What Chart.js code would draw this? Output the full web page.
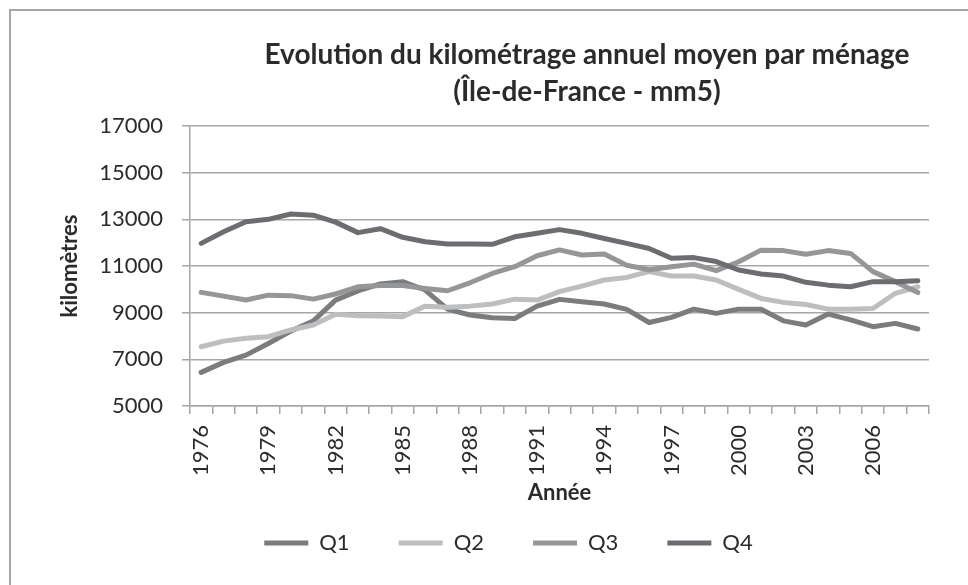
<!DOCTYPE html>
<html>
<head>
<meta charset="utf-8">
<script src="https://cdn.jsdelivr.net/npm/chart.js@4"></script>
<style>
  html, body { margin: 0; padding: 0; background: #fff; }
  #wrap { position: relative; width: 968px; height: 585px; overflow: hidden; }
  #frame { position: absolute; left: 9px; top: 9px; width: 980px; height: 600px;
           border-left: 2px solid #a6a6a6; border-top: 2px solid #a6a6a6; box-sizing: border-box; }
  canvas { position: absolute; left: 0; top: 0; }
</style>
</head>
<body>
<div id="wrap">
  <div id="frame"></div>
  <canvas id="c" width="968" height="585"></canvas>
</div>
<script>
const titleLines = ['Evolution du kilométrage annuel moyen par ménage', '(Île-de-France - mm5)'];
const years = ['1976','1977','1978','1979','1980','1981','1982','1983','1984','1985','1986','1987','1988','1989','1990','1991','1992','1993','1994','1995','1996','1997','1998','1999','2000','2001','2002','2003','2004','2005','2006','2007','2008'];
const q1 = [6440,6870,7180,7680,8210,8640,9540,9930,10230,10330,9970,9150,8900,8780,8750,9280,9570,9470,9370,9140,8580,8800,9150,8970,9150,9150,8650,8470,8940,8690,8400,8540,8300];
const q2 = [7540,7780,7900,7970,8260,8470,8930,8870,8860,8830,9280,9230,9280,9370,9580,9540,9900,10140,10400,10510,10760,10570,10570,10400,10000,9610,9440,9350,9150,9150,9180,9830,10110];
const q3 = [9870,9710,9540,9750,9730,9580,9800,10110,10160,10160,10040,9940,10280,10680,10970,11440,11690,11470,11510,11030,10840,10970,11080,10800,11180,11680,11660,11500,11660,11540,10760,10330,9860];
const q4 = [11970,12470,12900,13000,13230,13180,12880,12430,12600,12230,12040,11940,11940,11930,12250,12400,12560,12400,12180,11970,11750,11330,11360,11190,10830,10660,10570,10300,10180,10110,10330,10330,10370];
const seriesNames = ['Q1','Q2','Q3','Q4'];
const seriesColors = ['#7b7c7e','#bdbec0','#959698','#6c6d70'];
const yTicks = [5000,7000,9000,11000,13000,15000,17000];
const xAxisTitle = 'Année';
const yAxisTitle = 'kilomètres';

const FONT = 'Lato, "Open Sans", sans-serif';
const GRID = '#a6a6a6';
const TXT = '#2b2b2b';

const titlePlugin = {
  id: 'customTitle',
  afterDraw(chart) {
    const ctx = chart.ctx;
    ctx.save();
    ctx.fillStyle = TXT;
    ctx.font = 'bold 28px ' + FONT;
    ctx.textAlign = 'center';
    ctx.textBaseline = 'middle';
    ctx.fillText(titleLines[0], 587, 55);
    ctx.fillText(titleLines[1], 587, 92);
    ctx.restore();
  }
};

const data = [q1, q2, q3, q4];
new Chart(document.getElementById('c'), {
  type: 'line',
  data: {
    labels: years,
    datasets: seriesNames.map((n, i) => ({
      label: n,
      data: data[i],
      borderColor: seriesColors[i],
      backgroundColor: seriesColors[i],
      borderWidth: 5,
      pointRadius: 0,
      pointHoverRadius: 0,
      tension: 0,
      borderCapStyle: 'round',
      borderJoinStyle: 'round',
      fill: false,
      order: 3 - i
    }))
  },
  options: {
    responsive: false,
    animation: false,
    devicePixelRatio: 1,
    layout: { padding: { left: 88, top: 126, right: 39, bottom: 21 } },
    plugins: {
      title: { display: false },
      tooltip: { enabled: false },
      legend: {
        position: 'bottom',
        labels: {
          usePointStyle: true,
          pointStyle: 'line',
          pointStyleWidth: 44,
          boxHeight: 22,
          padding: 49,
          color: TXT,
          font: { family: FONT, size: 22 },
          sort: (a, b) => a.datasetIndex - b.datasetIndex
        }
      }
    },
    scales: {
      x: {
        offset: true,
        grid: { display: true, drawOnChartArea: false, drawTicks: true, tickLength: 8, color: GRID, lineWidth: 1.5, offset: true },
        border: { display: true, color: GRID, width: 1.5 },
        ticks: {
          autoSkip: false,
          minRotation: 90,
          maxRotation: 90,
          padding: 11,
          color: TXT,
          font: { family: FONT, size: 22 },
          callback: function(v, i) { return (i % 3 === 0) ? years[i] : ''; }
        },
        title: { display: true, text: xAxisTitle, color: TXT, font: { family: FONT, size: 22, weight: 'bold' }, padding: { top: 0, bottom: -23 } },
        afterFit: (s) => { s.height = 77; }
      },
      y: {
        min: 5000,
        max: 17000,
        afterBuildTicks: (s) => { s.ticks = yTicks.map(v => ({ value: v })); },
        grid: { color: GRID, lineWidth: 1.5, tickLength: 8 },
        border: { display: true, color: GRID, width: 1.5 },
        ticks: { padding: 19, color: TXT, font: { family: FONT, size: 22 }, callback: (v) => String(v) },
        title: { display: true, text: yAxisTitle, color: TXT, font: { family: FONT, size: 22, weight: 'bold' }, padding: { top: -31, bottom: 0 } },
        afterFit: (s) => { s.width = 102; }
      }
    }
  },
  plugins: [titlePlugin]
});
</script>
</body>
</html>
